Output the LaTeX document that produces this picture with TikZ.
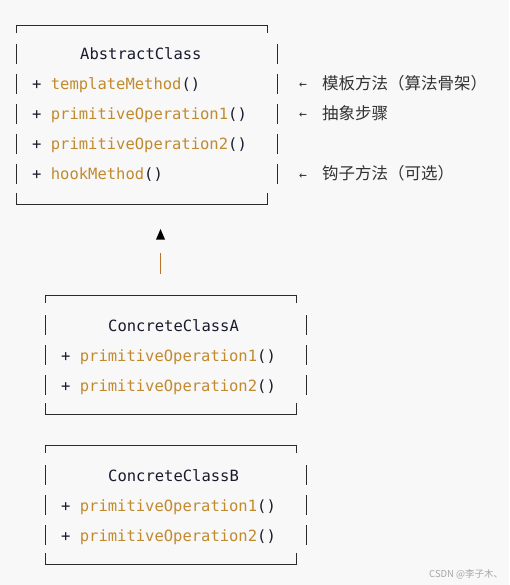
\documentclass[tikz,border=0pt]{standalone}
\usepackage{fontspec}
\newfontfamily\mono{DejaVu Sans Mono}
\newfontfamily\cjk{Noto Sans CJK SC}
\definecolor{bg}{HTML}{F8F8F8}
\definecolor{fn}{HTML}{C18A2E}
\definecolor{ink}{HTML}{1A1A2E}
\definecolor{note}{HTML}{333333}
\definecolor{edge}{HTML}{2A2A2A}
\definecolor{stem}{HTML}{B8752A}
\tikzset{
  code/.style={font=\mono\fontsize{15.5}{18}\selectfont, text=ink, inner sep=0pt, anchor=base west},
  remark/.style={font=\cjk\fontsize{16.5}{20}\selectfont, text=note, inner sep=0pt, anchor=base west},
  arr/.style={font=\mono\fontsize{13}{16}\selectfont, text=note, inner sep=0pt, anchor=base west},
  frame/.style={draw=edge, line width=0.9pt},
}
\newcommand{\fnm}[1]{\textcolor{fn}{#1}}
\begin{document}
\begin{tikzpicture}[x=1pt,y=-1pt]
\fill[bg] (0,0) rectangle (509,585);
\useasboundingbox (0,0) rectangle (509,585);

% ---------- AbstractClass ----------
\draw[frame] (16.5,33) -- (16.5,25) -- (267,25) -- (267,33);
\draw[frame] (16.5,193) -- (16.5,204) -- (267,204) -- (267,193);
\foreach \r in {54,84,114,144,174}{
  \draw[frame] (16.5,\r-10) -- (16.5,\r+10);
  \draw[frame] (277,\r-10) -- (277,\r+10);
}
\node[code] (abs) at (80,60) {AbstractClass};
\node[code] (tm) at (32,90) {+ \fnm{templateMethod}()};
\node[code] (p1) at (32,120) {+ \fnm{primitiveOperation1}()};
\node[code] (p2) at (32,150) {+ \fnm{primitiveOperation2}()};
\node[code] (hk) at (32,180) {+ \fnm{hookMethod}()};

% annotations
\node[arr] (a1) at (299,89) {←};
\node[remark] (n1) at (322,90) {模板方法（算法骨架）};
\node[arr] (a2) at (299,119) {←};
\node[remark] (n2) at (322,120) {抽象步骤};
\node[arr] (a3) at (299,179) {←};
\node[remark] (n3) at (322,180) {钩子方法（可选）};

% ---------- inheritance arrow ----------
\coordinate (tip) at (160.5,229);
\coordinate (stemtop) at (160.5,253);
\coordinate (stembot) at (160.5,274);
\fill[black] (tip) -- (156,239.5) -- (165,239.5) -- cycle;
\draw[stem, line width=1.3pt] (stemtop) -- (stembot);

% ---------- ConcreteClassA ----------
\draw[frame] (45,303) -- (45,295) -- (296,295) -- (296,303);
\draw[frame] (45,403) -- (45,414) -- (296,414) -- (296,403);
\foreach \r in {325,355,385}{
  \draw[frame] (45,\r-10) -- (45,\r+10);
  \draw[frame] (306,\r-10) -- (306,\r+10);
}
\node[code] (ca) at (108,331) {ConcreteClassA};
\node[code] (ca1) at (61,361) {+ \fnm{primitiveOperation1}()};
\node[code] (ca2) at (61,391) {+ \fnm{primitiveOperation2}()};

% ---------- ConcreteClassB ----------
\draw[frame] (45,453) -- (45,445) -- (296,445) -- (296,453);
\draw[frame] (45,553) -- (45,564) -- (296,564) -- (296,553);
\foreach \r in {475,505,535}{
  \draw[frame] (45,\r-10) -- (45,\r+10);
  \draw[frame] (306,\r-10) -- (306,\r+10);
}
\node[code] (cb) at (108,481) {ConcreteClassB};
\node[code] (cb1) at (61,511) {+ \fnm{primitiveOperation1}()};
\node[code] (cb2) at (61,541) {+ \fnm{primitiveOperation2}()};

% watermark
\node[font=\cjk\fontsize{9.5}{11}\selectfont, text=black!35, inner sep=0pt, anchor=base west] (wm) at (429,577.5) {CSDN @李子木、};
\end{tikzpicture}
\end{document}
